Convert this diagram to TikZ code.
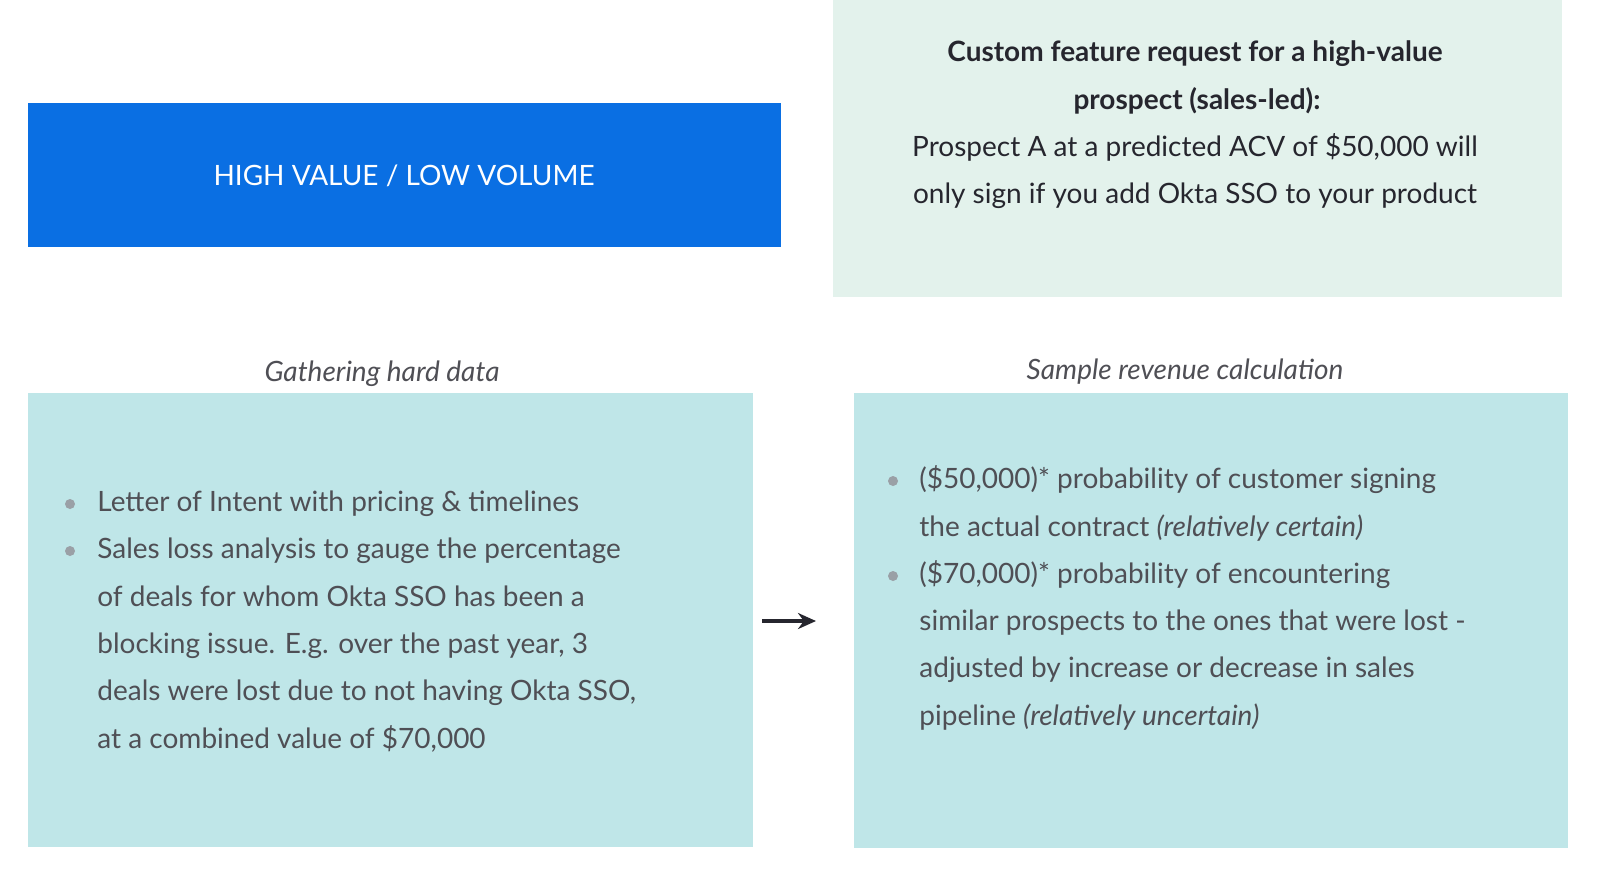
\documentclass[tikz,border=0pt]{standalone}
\usepackage{fontspec}
\setmainfont{Lato}
\usetikzlibrary{arrows.meta}
\definecolor{bluebox}{HTML}{0A6FE3}
\definecolor{greenbox}{HTML}{E3F2EC}
\definecolor{tealbox}{HTML}{BFE6E8}
\definecolor{txt}{HTML}{4F4F55}
\definecolor{dark}{HTML}{26262E}
\definecolor{bul}{HTML}{9AA0A6}
\begin{document}
\begin{tikzpicture}[x=0.5pt,y=-0.5pt,
  ln/.style={anchor=base west,inner sep=0pt,text=txt,font=\fontsize{14}{16}\selectfont},
  cl/.style={anchor=base,inner sep=0pt,text=dark,font=\fontsize{14}{16}\selectfont},
  dot/.style={circle,fill=bul,inner sep=0pt,minimum size=5pt}]
\useasboundingbox (0,0) rectangle (1600,880);
\fill[white] (0,0) rectangle (1600,880);
\fill[bluebox] (28,103) rectangle (781,247);
\fill[greenbox] (833,0) rectangle (1562,297);
\fill[tealbox] (28,393) rectangle (753,847);
\fill[tealbox] (854,393) rectangle (1568,848);
\node[cl,text=white] (hv) at (404,185) {HIGH VALUE / LOW VOLUME};
\node[cl,font=\fontsize{14}{16}\selectfont\bfseries] (g1) at (1195,61) {Custom feature request for a high-value};
\node[cl,font=\fontsize{14}{16}\selectfont\bfseries] (g2) at (1197,109) {prospect (sales-led):};
\node[cl] (g3) at (1195,156) {Prospect A at a predicted ACV of \$50,000 will};
\node[cl] (g4) at (1195,203) {only sign if you add Okta SSO to your product};
\node[cl,text=txt,font=\fontsize{14}{16}\selectfont\itshape] (t1) at (382,381) {Gathering hard data};
\node[cl,text=txt,font=\fontsize{14}{16}\selectfont\itshape] (t2) at (1185,379) {Sample revenue calculation};
\node[dot] (b1) at (70,504) {};
\node[dot] (b2) at (70,551) {};
\node[ln] (l1) at (97,511) {Letter of Intent with pricing \& timelines};
\node[ln] (l2) at (97,558) {Sales loss analysis to gauge the percentage};
\node[ln] (l3) at (97,606) {of deals for whom Okta SSO has been a};
\node[ln] (l4) at (97,653) {blocking issue. E.g. over the past year, 3};
\node[ln] (l5) at (97,700) {deals were lost due to not having Okta SSO,};
\node[ln] (l6) at (97,748) {at a combined value of \$70,000};
\node[dot] (c1) at (893,481) {};
\node[dot] (c2) at (893,576) {};
\node[ln] (r1) at (919,488) {(\$50,000)* probability of customer signing};
\node[ln] (r2) at (919,536) {the actual contract \textit{(relatively certain)}};
\node[ln] (r3) at (919,583) {(\$70,000)* probability of encountering};
\node[ln] (r4) at (919,630) {similar prospects to the ones that were lost -};
\node[ln] (r5) at (919,677) {adjusted by increase or decrease in sales};
\node[ln] (r6) at (919,725) {pipeline \textit{(relatively uncertain)}};
\coordinate (a1) at (762,621);
\coordinate (a2) at (816,621);
\draw[dark,line width=1.6pt,-{Stealth[length=9pt,width=8pt]}] (a1) -- (a2);
\end{tikzpicture}
\end{document}
